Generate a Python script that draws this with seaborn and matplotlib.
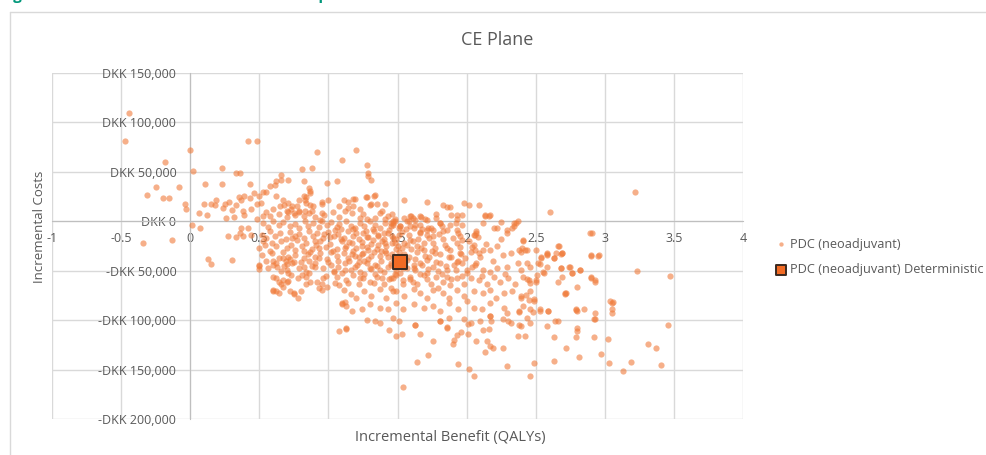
import pandas as pd
import matplotlib.pyplot as plt
import matplotlib.ticker as mticker
from matplotlib.lines import Line2D
import seaborn as sns

# PSA iterations: (incremental QALYs, incremental cost in DKK thousands)
neg_qaly_pts = [(-0.44, 110), (-0.47, 81), (-0.18, 60), (-0.25, 35), (-0.08, 35), (-0.31, 27),
                (-0.20, 24), (-0.15, 24), (-0.04, 18), (-0.03, 12), (-0.34, -22), (-0.13, -19)]

upper_left_pts = [(0.00, 72), (0.02, 51), (0.23, 54), (0.33, 49), (0.36, 49), (0.42, 81), (0.48, 81),
                  (0.11, 38), (0.23, 38), (0.43, 38), (0.10, 18), (0.15, 18), (0.18, 16), (0.25, 18),
                  (0.24, 13), (0.19, 22), (0.35, 25), (0.39, 26), (0.37, 22), (0.43, 24), (0.48, 18),
                  (0.46, 29), (0.06, 8), (0.12, 6), (0.26, 3), (0.32, 4), (0.30, 11), (0.38, 10),
                  (0.39, 6), (0.48, 2), (0.01, -4), (0.07, -7), (0.28, 20), (0.33, 16), (0.44, 12),
                  (0.27, -15), (0.33, -16), (0.36, -12), (0.37, -7), (0.38, -15), (0.42, -7), (0.44, -14)]

upper_mid_pts = [(0.50, 26), (0.51, 19), (0.55, 30), (0.53, 30), (0.58, 36), (0.61, 37), (0.62, 41),
                 (0.66, 42), (0.66, 47), (0.71, 42), (0.62, 26), (0.65, 15), (0.68, 17), (0.67, 22),
                 (0.70, 10), (0.71, 19), (0.73, 12), (0.74, 15), (0.75, 8), (0.77, 15), (0.79, 22),
                 (0.79, 10), (0.81, 53), (0.82, 41), (0.82, 5), (0.82, 26), (0.83, 22), (0.84, 25),
                 (0.84, 19), (0.86, 34), (0.86, 8), (0.87, 31), (0.87, 17), (0.87, 29), (0.88, 10),
                 (0.88, 54), (0.89, 15), (0.92, 70), (0.95, 18), (0.95, 8), (0.95, 20), (0.97, 6),
                 (0.99, 39), (0.58, 5), (0.64, 7), (0.70, 4), (0.71, 9), (0.76, 6), (0.79, 9),
                 (0.83, 10), (0.90, 4), (0.94, 1), (0.60, 12), (0.55, 9), (0.53, 5),
                 (1.00, 22), (1.03, 9), (1.08, 4), (1.06, 41), (1.10, 62), (1.08, 15), (1.11, 22),
                 (1.12, 10), (1.14, 13), (1.14, 20), (1.17, 8), (1.18, 15), (1.19, 23), (1.20, 72),
                 (1.23, 3), (1.27, 25), (1.28, 57), (1.29, 49), (1.29, 46), (1.31, 42), (1.28, 2),
                 (1.30, 17), (1.33, 26), (1.34, 3), (1.35, 18), (1.37, 8), (1.41, 18), (1.41, 2),
                 (1.46, 7), (1.47, 0), (1.55, 22), (1.55, 3), (1.58, 0), (1.60, 5), (1.63, 1),
                 (1.71, 20), (1.67, 4), (1.71, 1), (1.78, 7), (1.83, 16), (1.86, 14), (1.88, 14),
                 (1.89, 6), (1.93, 6), (1.97, 6), (1.98, 19), (2.02, 17), (2.09, 16), (2.13, 6),
                 (2.17, 6), (1.34, 27), (1.28, 25), (1.18, 23), (1.23, 12), (1.25, 7), (1.31, 18),
                 (1.39, 10), (1.43, 5), (1.48, 2), (1.45, -2), (1.59, 5), (1.61, 3), (1.66, 5),
                 (1.70, 2), (1.63, -4), (1.72, -7), (1.78, 3), (1.81, -2), (1.93, 2), (1.88, -4),
                 (1.82, -5), (1.86, -9), (1.71, -14), (1.76, -9), (1.66, -12), (1.59, -5),
                 (1.52, -5), (1.47, -4)]

upper_right_pts = [(3.22, 30), (2.60, 9), (2.36, -2), (2.34, -2), (2.25, -1), (2.20, -7), (2.29, -9),
                   (2.33, -7), (2.13, 5), (2.16, 5), (2.07, -12), (2.06, -14), (1.95, -15),
                   (1.97, -19), (2.05, -24), (2.41, -20), (2.42, -29), (2.39, -31), (2.54, -36),
                   (2.58, -33), (2.65, -32), (2.69, -32), (2.89, -12), (2.90, -35), (2.95, -35)]

core_pts = [(0.53, -2), (0.56, -6), (0.60, 0), (0.64, -4), (0.67, -1), (0.72, -5), (0.76, -3),
            (0.79, -7), (0.83, 0), (0.85, -5), (0.89, -2), (0.93, -6), (0.95, 0), (0.99, -4),
            (1.02, -1), (1.06, -6), (1.08, -3), (1.13, 0), (1.16, -5), (1.19, -7), (1.23, -2),
            (1.26, -5), (1.30, 0), (1.34, -4), (1.37, -7), (1.41, -2), (1.45, -5), (1.48, 0),
            (1.51, -7),
            (0.52, -14), (0.55, -17), (0.58, -10), (0.61, -15), (0.65, -12), (0.69, -18),
            (0.72, -11), (0.76, -15), (0.79, -13), (0.82, -17), (0.86, -10), (0.89, -15),
            (0.92, -12), (0.96, -17), (1.00, -11), (1.04, -15), (1.07, -13), (1.11, -17),
            (1.14, -10), (1.18, -15), (1.22, -18), (1.25, -12), (1.29, -16), (1.33, -10),
            (1.36, -15), (1.40, -18), (1.43, -12), (1.47, -17), (1.51, -14),
            (0.50, -27), (0.54, -24), (0.59, -22), (0.62, -25), (0.66, -20), (0.70, -27),
            (0.73, -24), (0.77, -19), (0.81, -25), (0.84, -22), (0.88, -28), (0.91, -24),
            (0.94, -20), (0.98, -26), (1.01, -23), (1.06, -28), (1.10, -20), (1.13, -25),
            (1.17, -22), (1.20, -27), (1.24, -21), (1.28, -26), (1.31, -23), (1.35, -28),
            (1.39, -20), (1.42, -25), (1.46, -22), (1.49, -28),
            (0.52, -34), (0.59, -32), (0.64, -37), (0.67, -31), (0.71, -36), (0.76, -34),
            (0.82, -37), (0.87, -31), (0.90, -36), (0.94, -32), (0.99, -38), (1.02, -31),
            (1.06, -35), (1.11, -32), (1.14, -37), (1.18, -30), (1.22, -36), (1.25, -32),
            (1.29, -38), (1.33, -31), (1.37, -35), (1.42, -32), (1.47, -37), (1.51, -31),
            (0.50, -44), (0.62, -42), (0.70, -49), (0.75, -41), (0.82, -46), (0.84, -51),
            (0.90, -42), (0.96, -47), (1.00, -41), (1.04, -51), (1.07, -46), (1.12, -42),
            (1.16, -49), (1.19, -46), (1.23, -51), (1.28, -42), (1.31, -48), (1.35, -45),
            (1.40, -51), (1.45, -44), (1.49, -49),
            (0.62, -57), (0.66, -63), (0.70, -61), (0.73, -54), (0.84, -56), (0.87, -61),
            (0.95, -63), (0.96, -57), (1.06, -56), (1.08, -64), (1.13, -59), (1.18, -54),
            (1.22, -63), (1.25, -57), (1.30, -61), (1.35, -56), (1.40, -63), (1.45, -57),
            (1.49, -54),
            (0.60, -71), (0.64, -73), (0.75, -73), (0.78, -78), (0.95, -69), (0.99, -66),
            (1.11, -69), (1.16, -74), (1.20, -78), (1.26, -71), (1.31, -76), (1.37, -68),
            (1.42, -78), (1.47, -71),
            (1.10, -84), (1.13, -86), (1.17, -91), (1.24, -89), (1.30, -84), (1.37, -88),
            (1.43, -89), (1.49, -83), (1.13, -108), (1.28, -100), (1.37, -103), (1.47, -98)]

core_right_pts = [(1.47, -2), (1.52, -5), (1.57, 0), (1.62, -7), (1.66, -4), (1.71, -9), (1.81, -2),
                  (1.83, -10), (1.92, -2), (1.93, -9), (1.97, -4), (2.05, -14), (2.07, -10),
                  (2.12, -2), (2.22, -7), (2.29, -12), (2.34, -5), (2.37, 0), (2.41, -19), (2.91, -12),
                  (1.48, -22), (1.55, -22), (1.59, -19), (1.64, -25), (1.69, -29), (1.76, -22),
                  (1.77, -32), (1.86, -27), (1.93, -22), (1.95, -32), (2.03, -31), (2.06, -29),
                  (2.09, -32), (2.12, -29), (2.17, -29), (2.22, -25), (2.26, -34), (2.32, -32),
                  (2.38, -29), (2.40, -27), (2.44, -29), (2.50, -29), (2.58, -32), (2.63, -37),
                  (2.66, -25), (2.69, -32), (2.90, -34), (2.96, -34),
                  (1.45, -42), (1.49, -46), (1.57, -39), (1.62, -47), (1.66, -42), (1.71, -39),
                  (1.76, -46), (1.81, -42), (1.86, -49), (1.89, -36), (1.93, -41), (1.97, -42),
                  (2.00, -49), (2.04, -46), (2.07, -42), (2.12, -49), (2.17, -51), (2.22, -47),
                  (2.29, -46), (2.37, -42), (2.39, -49), (2.44, -42), (2.46, -46), (2.52, -42),
                  (2.55, -51), (2.58, -46), (2.68, -47), (2.75, -46), (2.76, -52), (2.82, -49),
                  (1.47, -57), (1.54, -59), (1.59, -56), (1.64, -63), (1.69, -54), (1.74, -63),
                  (1.78, -56), (1.83, -61), (1.88, -64), (1.93, -57), (1.98, -63), (2.03, -57),
                  (2.09, -59), (2.15, -63), (2.20, -56), (2.24, -61), (2.30, -57), (2.35, -63),
                  (2.41, -56), (2.45, -59), (2.50, -61), (2.51, -54), (2.66, -61), (2.69, -56),
                  (2.90, -57), (2.93, -61),
                  (1.49, -71), (1.55, -76), (1.62, -68), (1.66, -73), (1.71, -78), (1.76, -69),
                  (1.83, -73), (1.87, -78), (1.93, -69), (1.98, -76), (2.05, -71), (2.12, -73),
                  (2.17, -69), (2.21, -78), (2.27, -73), (2.33, -71), (2.39, -76), (2.46, -71),
                  (2.49, -79), (2.72, -73), (3.04, -81),
                  (1.54, -89), (1.62, -84), (1.69, -88), (1.76, -86), (1.81, -91), (1.87, -83),
                  (1.94, -89), (2.00, -81), (2.05, -88), (2.11, -89), (2.17, -83), (2.27, -88),
                  (2.29, -93), (2.38, -91), (2.46, -89), (2.53, -89), (2.59, -91), (2.79, -89),
                  (2.85, -89), (3.05, -89),
                  (1.63, -105), (1.81, -101), (1.87, -98), (1.98, -99), (2.03, -103), (2.10, -101),
                  (2.17, -96), (2.26, -99), (2.32, -103), (2.44, -98), (2.58, -106), (2.66, -101),
                  (2.80, -108), (2.92, -99)]

core_extra_pts = [(1.05, -9), (1.09, -18), (1.12, -27), (1.15, -40), (1.18, -8), (1.21, -44),
                  (1.24, -33), (1.27, -10), (1.30, -47), (1.32, -19), (1.34, -53), (1.36, -24),
                  (1.38, -40), (1.40, -12), (1.43, -36), (1.44, -58), (1.46, -15), (1.48, -42),
                  (1.50, -25), (1.52, -52), (1.53, -11), (1.55, -33), (1.57, -47), (1.58, -14),
                  (1.60, -28), (1.61, -61), (1.63, -38), (1.65, -18), (1.66, -53), (1.68, -8),
                  (1.70, -35), (1.72, -48), (1.73, -17), (1.75, -30), (1.78, -41), (1.80, -13),
                  (1.82, -53), (1.84, -24), (1.87, -36), (1.90, -17), (1.92, -49), (1.95, -26),
                  (1.99, -37), (2.02, -20), (1.10, -52), (1.14, -62), (1.19, -35), (1.23, -57),
                  (1.26, -40), (1.29, -29), (1.33, -62), (1.37, -49), (1.41, -30), (1.45, -67),
                  (1.50, -36), (1.54, -63), (1.57, -24), (1.62, -44), (1.67, -27), (1.71, -58),
                  (1.76, -15), (1.79, -67), (1.85, -45), (1.89, -58), (1.94, -40), (1.97, -55),
                  (2.06, -44), (2.10, -36), (2.14, -23), (2.19, -40), (2.25, -18), (2.28, -53),
                  (1.02, -44), (0.98, -55), (0.93, -27), (0.88, -45), (0.85, -33), (0.80, -41),
                  (0.76, -29), (0.72, -38), (0.68, -45), (0.66, -50), (0.60, -40), (0.56, -47),
                  (0.58, -30), (0.53, -20)]

core_dense_pts = [(1.01, -16), (1.03, -30), (1.07, -40), (1.09, -8), (1.12, -49), (1.15, -21),
                  (1.17, -33), (1.20, -12), (1.22, -41), (1.24, -25), (1.26, -53), (1.28, -16),
                  (1.31, -35), (1.32, -8), (1.34, -44), (1.36, -14), (1.38, -30), (1.39, -57),
                  (1.41, -22), (1.43, -46), (1.44, -9), (1.46, -33), (1.48, -53), (1.49, -18),
                  (1.51, -39), (1.53, -27), (1.54, -47), (1.56, -8), (1.58, -36), (1.59, -58),
                  (1.61, -20), (1.63, -49), (1.64, -31), (1.66, -11), (1.68, -44), (1.69, -22),
                  (1.71, -52), (1.73, -36), (1.74, -7), (1.77, -27), (1.79, -50), (1.81, -33),
                  (1.83, -18), (1.86, -56), (1.88, -29), (1.91, -44), (1.94, -12), (1.96, -33),
                  (2.00, -52), (2.04, -26), (2.08, -16), (2.11, -55), (0.97, -13), (0.93, -37),
                  (0.90, -20), (0.86, -52), (0.82, -30), (0.78, -57), (0.74, -17), (0.70, -43)]

lower_left_pts = [(0.50, -45), (0.50, -48), (0.55, -40), (0.60, -44), (0.63, -46), (0.67, -37),
                  (0.69, -40), (0.60, -56), (0.64, -61), (0.67, -59), (0.71, -60), (0.60, -69),
                  (0.62, -70), (0.67, -66), (0.72, -70), (0.75, -74), (0.80, -70), (0.71, -52),
                  (0.74, -42), (0.79, -47), (0.81, -54), (0.84, -63), (0.86, -40), (0.90, -46),
                  (0.92, -61), (0.93, -67), (1.08, -111), (1.13, -109), (1.05, -62), (1.04, -50),
                  (1.10, -83), (1.12, -82), (0.13, -38), (0.15, -43), (0.30, -39)]

lower_mid_pts = [(1.44, -110), (1.49, -116), (1.53, -114), (1.34, -101), (1.51, -101), (1.63, -105),
                 (1.66, -114), (1.76, -121), (1.72, -135), (1.64, -142), (1.54, -168), (1.81, -101),
                 (1.86, -107)]

lower_right_pts = [(2.71, -74), (3.05, -83), (3.05, -93), (2.93, -93), (2.93, -99), (2.80, -91),
                   (2.64, -101), (2.80, -111), (2.79, -117), (2.92, -117), (3.02, -119), (3.46, -105),
                   (3.31, -124), (3.37, -128), (3.41, -145), (3.19, -142), (3.13, -151), (3.03, -143),
                   (2.97, -134), (2.81, -137), (2.72, -128), (2.63, -141), (2.63, -117), (2.49, -143),
                   (2.46, -156), (2.29, -146), (2.26, -128), (2.19, -128), (2.17, -126), (2.13, -132),
                   (2.15, -121), (2.07, -121), (2.12, -110), (2.01, -114), (2.37, -116), (2.46, -103),
                   (2.38, -105), (2.30, -101), (2.18, -101), (2.16, -109), (2.17, -96), (1.94, -144),
                   (2.02, -149), (2.05, -156), (1.86, -108), (1.93, -115), (1.91, -120), (1.90, -124),
                   (1.96, -112), (2.01, -104)]

right_tail_pts = [(3.47, -55), (3.23, -50), (2.67, -25), (2.68, -33), (2.63, -37), (2.58, -34),
                  (2.54, -37), (2.53, -43), (2.56, -52), (2.68, -47), (2.74, -46), (2.76, -52),
                  (2.82, -49), (2.90, -56), (2.93, -59), (2.80, -66), (2.71, -73), (3.06, -82),
                  (2.79, -90), (2.42, -116), (2.39, -106), (2.48, -92), (2.53, -91), (2.59, -91),
                  (2.49, -81), (2.45, -80), (2.41, -86), (2.38, -92), (2.39, -78), (2.43, -75),
                  (2.46, -62), (2.50, -59), (2.44, -58)]

# deterministic result
det_qaly = [1.52]
det_cost = [-41]

series_psa = 'PDC (neoadjuvant)'
series_det = 'PDC (neoadjuvant) Deterministic'

all_pts = (neg_qaly_pts + upper_left_pts + upper_mid_pts + upper_right_pts + core_pts +
           core_right_pts + core_extra_pts + core_dense_pts + lower_left_pts + lower_mid_pts +
           lower_right_pts + right_tail_pts)
df = pd.DataFrame(all_pts, columns=['qaly', 'cost_k'])
df_det = pd.DataFrame({'qaly': det_qaly, 'cost_k': det_cost})

sns.set_style('white')
plt.rcParams['font.family'] = ['Open Sans', 'DejaVu Sans']

grey_txt = '#595959'
grid_c = '#d9d9d9'

fig = plt.figure(figsize=(9.87, 4.55), dpi=100)
ax = fig.add_axes([0.0527, 0.0791, 0.7001, 0.7604])

sns.scatterplot(data=df, x='qaly', y='cost_k', ax=ax, color='#F07B3A', alpha=0.6,
                s=20, linewidth=0, label=series_psa, zorder=3)
sns.scatterplot(data=df_det, x='qaly', y='cost_k', ax=ax, color='#F26B24', marker='s',
                s=95, edgecolor='#3b2a20', linewidth=1.4, label=series_det, zorder=4)

ax.set_xlim(-1, 4)
ax.set_ylim(-200, 150)
ax.set_xticks([-1, -0.5, 0, 0.5, 1, 1.5, 2, 2.5, 3, 3.5, 4])
ax.set_yticks(range(-200, 151, 50))
ax.grid(True, color=grid_c, linewidth=1)
ax.set_axisbelow(True)

ax.xaxis.set_major_formatter(mticker.FuncFormatter(lambda v, p: f'{v:g}'))
ax.yaxis.set_major_formatter(mticker.FuncFormatter(
    lambda v, p: ('-' if v < 0 else '') + f'DKK {abs(v) * 1000:,.0f}'))

for side in ['top', 'right']:
    ax.spines[side].set_visible(False)
ax.spines['bottom'].set_position(('data', 0))
ax.spines['left'].set_position(('data', 0))
ax.spines['bottom'].set_color('#bfbfbf')
ax.spines['left'].set_color('#bfbfbf')
ax.tick_params(length=0, labelsize=9, colors=grey_txt)
ax.tick_params(axis='x', pad=8)
ax.tick_params(axis='y', pad=10)
ax.set_xlabel('')
ax.set_ylabel('')

fig.text(450 / 987, 1 - 438 / 455, 'Incremental Benefit (QALYs)', ha='center', va='center',
         fontsize=10.5, color=grey_txt)
fig.text(40 / 987, 1 - 227 / 455, 'Incremental Costs', ha='center', va='center',
         rotation=90, fontsize=9.5, color=grey_txt)
fig.text(497 / 987, 1 - 40 / 455, 'CE Plane', ha='center', va='center', fontsize=13, color=grey_txt)

# cropped report heading above the chart frame
fig.text(0.0, 1 + 4 / 455, 'Figure 13: PSA results \u2013 cost-effectiveness plane', ha='left',
         va='center', fontsize=11, fontweight='bold', color='#00977a')

# chart frame
fig.add_artist(Line2D([10 / 987, 10 / 987], [0, 1 - 12 / 455], color=grid_c, linewidth=1,
                      transform=fig.transFigure))
fig.add_artist(Line2D([10 / 987, 1], [1 - 12 / 455, 1 - 12 / 455], color=grid_c, linewidth=1,
                      transform=fig.transFigure))

h, l = ax.get_legend_handles_labels()
ax.legend(h, l, loc='center left', bbox_to_anchor=(763 / 987, 1 - 257 / 455),
          bbox_transform=fig.transFigure, frameon=False, fontsize=9.2, labelcolor=grey_txt,
          handletextpad=0.2, labelspacing=1.0, markerscale=0.7, handlelength=1.0)

fig.savefig('out.png', dpi=100)
